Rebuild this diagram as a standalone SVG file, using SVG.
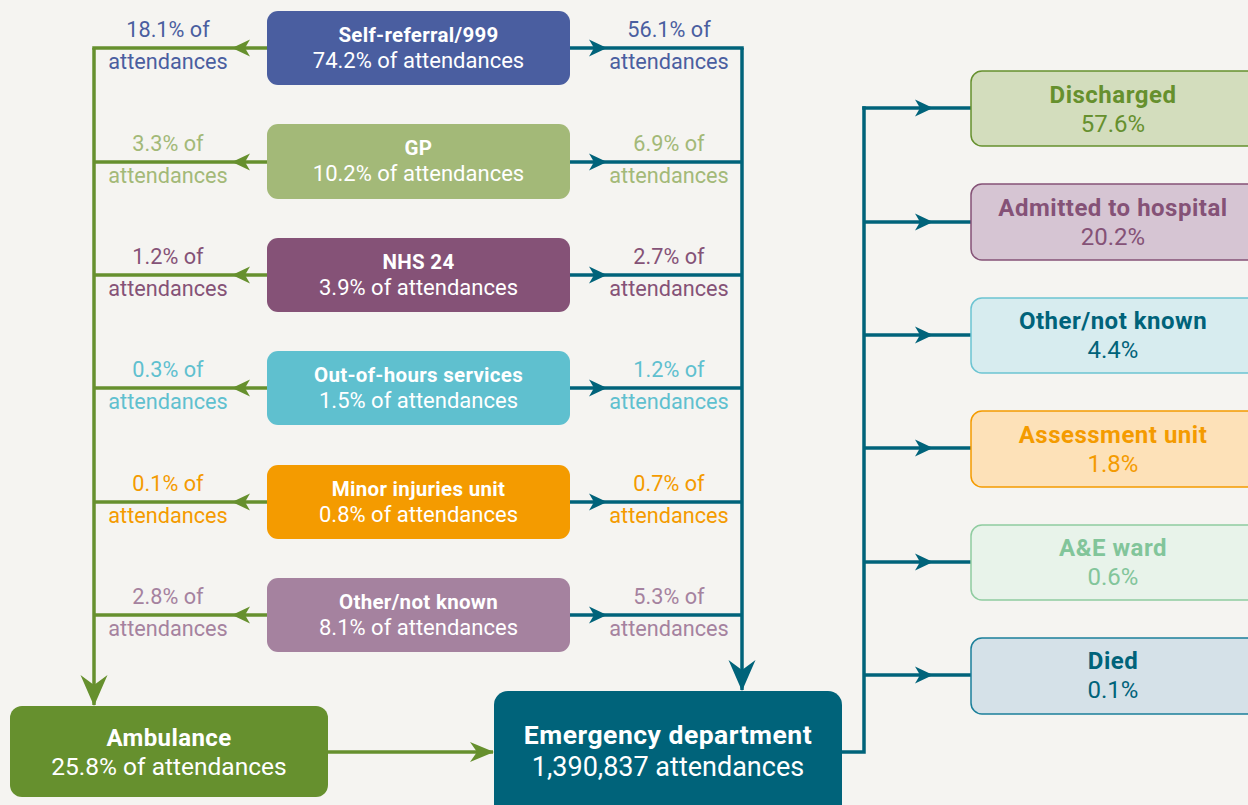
<svg xmlns="http://www.w3.org/2000/svg" width="1248" height="805" viewBox="0 0 1248 805">
<style>
text{font-family:Roboto,"Liberation Sans",sans-serif;text-anchor:middle}
.t{font-weight:700;font-size:20.5px;fill:#fff;letter-spacing:0.3px}
.v{font-size:22px;fill:#fff}
.l{font-size:21.7px}
.g{fill:none;stroke:#66902e;stroke-width:3.5}
.b{fill:none;stroke:#00637a;stroke-width:3.5}
.rt{font-weight:700;font-size:24px;letter-spacing:0.5px}
.rv{font-size:24px}
</style>
<defs>
<marker id="ag" markerUnits="userSpaceOnUse" viewBox="-20 -10 22 20" markerWidth="22" markerHeight="20" refX="0" refY="0" orient="auto" overflow="visible"><path d="M1,0 L-17,-8.5 L-12,0 L-17,8.5 Z" fill="#66902e"/></marker>
<marker id="ab" markerUnits="userSpaceOnUse" viewBox="-20 -10 22 20" markerWidth="22" markerHeight="20" refX="0" refY="0" orient="auto" overflow="visible"><path d="M1,0 L-17,-8.5 L-12,0 L-17,8.5 Z" fill="#00637a"/></marker>
<marker id="agL" markerUnits="userSpaceOnUse" viewBox="-32 -15 34 30" markerWidth="34" markerHeight="30" refX="0" refY="0" orient="auto" overflow="visible"><path d="M1,0 L-30,-13.5 L-20,0 L-30,13.5 Z" fill="#66902e"/></marker>
<marker id="abL" markerUnits="userSpaceOnUse" viewBox="-32 -15 34 30" markerWidth="34" markerHeight="30" refX="0" refY="0" orient="auto" overflow="visible"><path d="M1,0 L-30,-13.5 L-20,0 L-30,13.5 Z" fill="#00637a"/></marker>
<marker id="agM" markerUnits="userSpaceOnUse" viewBox="-26 -12 28 24" markerWidth="28" markerHeight="24" refX="0" refY="0" orient="auto" overflow="visible"><path d="M1,0 L-23,-10 L-16,0 L-23,10 Z" fill="#66902e"/></marker>
</defs>
<rect width="1248" height="805" fill="#f5f4f1"/>

<g id="connectors">
<path class="g" d="M94,48 V705" marker-end="url(#agL)"/>
<path class="b" d="M742,48 V690" marker-end="url(#abL)"/>
<path class="g" d="M267,48 L233,48 L92.25,48" marker-mid="url(#ag)"/>
<path class="g" d="M267,162 L233,162 L94,162" marker-mid="url(#ag)"/>
<path class="g" d="M267,275 L233,275 L94,275" marker-mid="url(#ag)"/>
<path class="g" d="M267,388 L233,388 L94,388" marker-mid="url(#ag)"/>
<path class="g" d="M267,502 L233,502 L94,502" marker-mid="url(#ag)"/>
<path class="g" d="M267,615 L233,615 L94,615" marker-mid="url(#ag)"/>
<path class="b" d="M570,48 L606,48 L743.75,48" marker-mid="url(#ab)"/>
<path class="b" d="M570,162 L606,162 L742,162" marker-mid="url(#ab)"/>
<path class="b" d="M570,275 L606,275 L742,275" marker-mid="url(#ab)"/>
<path class="b" d="M570,388 L606,388 L742,388" marker-mid="url(#ab)"/>
<path class="b" d="M570,502 L606,502 L742,502" marker-mid="url(#ab)"/>
<path class="b" d="M570,615 L606,615 L742,615" marker-mid="url(#ab)"/>
<path class="g" d="M328,752 H493" marker-end="url(#agM)"/>
<path class="b" d="M842,752 H864 V106.25"/>
<path class="b" d="M862.25,108 L932,108 L971,108" marker-mid="url(#ab)"/>
<path class="b" d="M864,222 L932,222 L971,222" marker-mid="url(#ab)"/>
<path class="b" d="M864,335 L932,335 L971,335" marker-mid="url(#ab)"/>
<path class="b" d="M864,448 L932,448 L971,448" marker-mid="url(#ab)"/>
<path class="b" d="M864,562 L932,562 L971,562" marker-mid="url(#ab)"/>
<path class="b" d="M864,675 L932,675 L971,675" marker-mid="url(#ab)"/>
</g>

<g id="labels" class="l">
<text x="168" y="37" fill="#4a5ea0">18.1% of</text><text x="168" y="69" fill="#4a5ea0">attendances</text>
<text x="669" y="37" fill="#4a5ea0">56.1% of</text><text x="669" y="69" fill="#4a5ea0">attendances</text>
<text x="168" y="151" fill="#a3b978">3.3% of</text><text x="168" y="183" fill="#a3b978">attendances</text>
<text x="669" y="151" fill="#a3b978">6.9% of</text><text x="669" y="183" fill="#a3b978">attendances</text>
<text x="168" y="264" fill="#855277">1.2% of</text><text x="168" y="296" fill="#855277">attendances</text>
<text x="669" y="264" fill="#855277">2.7% of</text><text x="669" y="296" fill="#855277">attendances</text>
<text x="168" y="377" fill="#5fc0cf">0.3% of</text><text x="168" y="409" fill="#5fc0cf">attendances</text>
<text x="669" y="377" fill="#5fc0cf">1.2% of</text><text x="669" y="409" fill="#5fc0cf">attendances</text>
<text x="168" y="491" fill="#f49b00">0.1% of</text><text x="168" y="523" fill="#f49b00">attendances</text>
<text x="669" y="491" fill="#f49b00">0.7% of</text><text x="669" y="523" fill="#f49b00">attendances</text>
<text x="168" y="604" fill="#a5829f">2.8% of</text><text x="168" y="636" fill="#a5829f">attendances</text>
<text x="669" y="604" fill="#a5829f">5.3% of</text><text x="669" y="636" fill="#a5829f">attendances</text>
</g>

<g id="self-referral"><rect x="267" y="11" width="303" height="74" rx="11" fill="#4a5ea0"/><text class="t" x="418.5" y="42">Self-referral/999</text><text class="v" x="418.5" y="68">74.2% of attendances</text></g>
<g id="gp"><rect x="267" y="124" width="303" height="75" rx="11" fill="#a3b978"/><text class="t" x="418.5" y="155">GP</text><text class="v" x="418.5" y="181">10.2% of attendances</text></g>
<g id="nhs24"><rect x="267" y="238" width="303" height="74" rx="11" fill="#855277"/><text class="t" x="418.5" y="269">NHS 24</text><text class="v" x="418.5" y="295">3.9% of attendances</text></g>
<g id="out-of-hours"><rect x="267" y="351" width="303" height="74" rx="11" fill="#5fc0cf"/><text class="t" x="418.5" y="382">Out-of-hours services</text><text class="v" x="418.5" y="408">1.5% of attendances</text></g>
<g id="minor-injuries"><rect x="267" y="465" width="303" height="74" rx="11" fill="#f49b00"/><text class="t" x="418.5" y="496">Minor injuries unit</text><text class="v" x="418.5" y="522">0.8% of attendances</text></g>
<g id="other-source"><rect x="267" y="578" width="303" height="74" rx="11" fill="#a5829f"/><text class="t" x="418.5" y="609">Other/not known</text><text class="v" x="418.5" y="635">8.1% of attendances</text></g>

<g id="ambulance"><rect x="10" y="706" width="318" height="91" rx="12" fill="#66902e"/><text class="t" x="169" y="746" style="font-size:24px;letter-spacing:0.4px">Ambulance</text><text class="v" x="169" y="775" style="font-size:24.5px">25.8% of attendances</text></g>
<g id="emergency-department"><rect x="494" y="691" width="348" height="130" rx="14" fill="#00637a"/><text class="t" x="668" y="744" style="font-size:26.5px;letter-spacing:0.5px">Emergency department</text><text class="v" x="668" y="776" style="font-size:27px">1,390,837 attendances</text></g>

<g id="discharged"><rect x="971" y="71" width="290" height="75" rx="11" fill="#d3ddbd" stroke="#66902e" stroke-width="1.5"/><text class="rt" x="1113" y="103" fill="#66902e">Discharged</text><text class="rv" x="1113" y="132" fill="#66902e">57.6%</text></g>
<g id="admitted"><rect x="971" y="184" width="290" height="76" rx="11" fill="#d6c5d3" stroke="#855277" stroke-width="1.5"/><text class="rt" x="1113" y="216" fill="#855277">Admitted to hospital</text><text class="rv" x="1113" y="245" fill="#855277">20.2%</text></g>
<g id="other-outcome"><rect x="971" y="298" width="290" height="75" rx="11" fill="#d7ecef" stroke="#6cc4d2" stroke-width="1.5"/><text class="rt" x="1113" y="329" fill="#00637a">Other/not known</text><text class="rv" x="1113" y="358" fill="#00637a">4.4%</text></g>
<g id="assessment-unit"><rect x="971" y="411" width="290" height="76" rx="11" fill="#fde1b8" stroke="#f49b00" stroke-width="1.5"/><text class="rt" x="1113" y="443" fill="#f49b00">Assessment unit</text><text class="rv" x="1113" y="472" fill="#f49b00">1.8%</text></g>
<g id="ae-ward"><rect x="971" y="525" width="290" height="75" rx="11" fill="#e8f3ea" stroke="#8fcca0" stroke-width="1.5"/><text class="rt" x="1113" y="556" fill="#82c59a">A&amp;E ward</text><text class="rv" x="1113" y="585" fill="#82c59a">0.6%</text></g>
<g id="died"><rect x="971" y="638" width="290" height="76" rx="11" fill="#d5e1e8" stroke="#1b7f9a" stroke-width="1.5"/><text class="rt" x="1113" y="669" fill="#00637a">Died</text><text class="rv" x="1113" y="698" fill="#00637a">0.1%</text></g>
</svg>
